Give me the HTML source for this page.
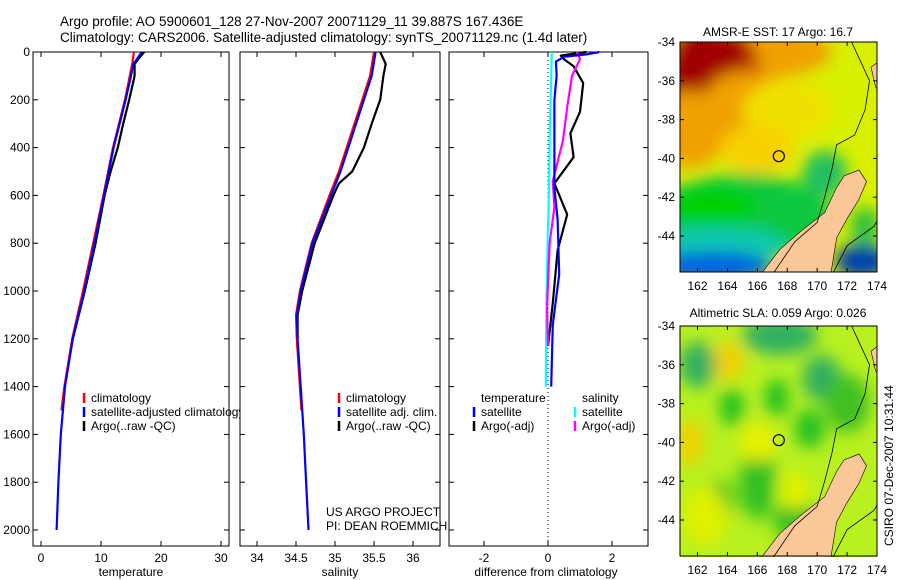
<!DOCTYPE html>
<html><head><meta charset="utf-8"><style>
body{margin:0;background:#fff;font-family:"Liberation Sans",sans-serif;}
svg{display:block}
text{font-family:"Liberation Sans",sans-serif;font-size:12px;fill:#000}
</style></head><body>
<svg id="c" width="900" height="580" viewBox="0 0 900 580">
<defs>
<filter id="blur" x="-20%" y="-20%" width="140%" height="140%"><feGaussianBlur stdDeviation="8"/></filter>
<clipPath id="clipm1"><rect x="680" y="42" width="197" height="230"/></clipPath>
<clipPath id="clipm2"><rect x="680" y="326" width="197" height="231"/></clipPath>
</defs>
<text x="60" y="26" style="font-size:13.5px">Argo profile: AO 5900601_128 27-Nov-2007 20071129_11 39.887S 167.436E</text>
<text x="60" y="42" style="font-size:13.5px">Climatology: CARS2006. Satellite-adjusted climatology: synTS_20071129.nc (1.4d later)</text>
<g id="g"></g>
</svg>
<script>
// ---- data (pressure in dbar) ----
const tClimP=[0,50,100,200,300,400,500,600,800,1000,1200,1400,1500];
const tClimV=[15.5,15.2,14.8,14,13,12,11.2,10.4,8.7,7,5.2,3.9,3.4];
const tSatP=[0,50,100,200,300,400,500,600,800,1000,1200,1400,1600,1800,2000];
const tSatV=[16.8,15.4,15,14.1,13.1,12.1,11.3,10.5,8.9,7.2,5.3,4,3.3,2.9,2.6];
const tArgoP=[0,20,50,100,200,300,400,500,600,800,1000,1100,1200];
const tArgoV=[17.2,16.5,15.6,15.6,14.7,13.7,12.8,11.6,10.6,9.1,7.3,6.3,5.3];
const sClimP=[0,100,200,300,400,500,600,800,1000,1100,1200,1400,1500];
const sClimV=[35.5,35.45,35.35,35.25,35.15,35.05,34.93,34.7,34.55,34.5,34.51,34.55,34.57];
const sSatP=[0,100,200,300,400,500,600,800,1000,1100,1200,1400,1600,1800,2000];
const sSatV=[35.52,35.47,35.37,35.27,35.17,35.07,34.95,34.71,34.56,34.51,34.52,34.56,34.6,34.63,34.66];
const sArgoP=[0,50,100,200,300,400,500,550,600,800,1000,1100,1200];
const sArgoV=[35.58,35.65,35.62,35.58,35.47,35.37,35.22,35.05,34.98,34.74,34.58,34.52,34.52];
const dTSatP=[0,10,20,40,100,200,370,570,700,930,1140,1300,1400];
const dTSatV=[1.6,1.2,0.5,0.25,0.27,0.2,0.2,0.2,0.3,0.35,0.15,0.12,0.1];
const dTArgoP=[0,15,30,60,130,250,340,440,550,680,830,1050,1230];
const dTArgoV=[1.2,0.4,0.5,0.8,1.1,1.0,0.7,0.8,0.2,0.6,0.3,0.15,0.0];
const dSSatP=[0,100,300,570,900,1200,1400];
const dSSatV=[0.12,0.1,0.06,0.03,-0.03,-0.06,-0.07];
const dSArgoP=[0,30,100,230,370,540,650,800,1070,1230];
const dSArgoV=[0.9,1.0,0.75,0.6,0.47,0.15,0.2,0.05,-0.03,0.0];
const tTicks=[0,10,20,30], sTicks=[34,34.5,35,35.5,36], dTicks=[-2,0,2];
const pTicks=[0,200,400,600,800,1000,1200,1400,1600,1800,2000];
const lonTicks=[162,164,166,168,170,172,174], latTicks=[-34,-36,-38,-40,-42,-44];

const NS='http://www.w3.org/2000/svg', G=document.getElementById('g');
function el(t,a,p){const e=document.createElementNS(NS,t);for(const k in a)e.setAttribute(k,a[k]);(p||G).appendChild(e);return e;}
function txt(x,y,s,a,p){const e=el('text',Object.assign({x:x,y:y},a||{}),p);e.textContent=s;return e;}
const y=p=>52+p*0.239;
const xT=v=>41+v*6, xS=v=>296+(v-34.5)*78, xD=v=>548+v*32;
function panel(x0,w,name){
  const r=el('rect',{x:x0,y:52,width:w,height:494,fill:'#fff',stroke:'#000','stroke-width':1});
  
}
function xticks(x0,w,ticks,fx,name){
  ticks.forEach(v=>{const X=fx(v);
    el('line',{x1:X,x2:X,y1:52,y2:57,stroke:'#000'});el('line',{x1:X,x2:X,y1:546,y2:541,stroke:'#000'});
    const t=txt(X,562,String(v),{'text-anchor':'middle'});});
}
function yticks(x0,w,lab){
  pTicks.forEach(p=>{el('line',{x1:x0,x2:x0+5,y1:y(p),y2:y(p),stroke:'#000'});el('line',{x1:x0+w,x2:x0+w-5,y1:y(p),y2:y(p),stroke:'#000'});
    if(lab){const t=txt(x0-3,y(p)+4,String(p),{'text-anchor':'end'});}});
}
function line(P,V,fx,col,name,w){
  const d=P.map((p,i)=>(i?'L':'M')+fx(V[i]).toFixed(1)+','+y(p).toFixed(1)).join('');
  const e=el('path',{d:d,fill:'none',stroke:col,'stroke-width':w||2.2,'stroke-linejoin':'round'});
  
}
function legend(x,yy,items,name){
  items.forEach((it,i)=>{const Y=yy+i*14;
    el('line',{x1:x,x2:x,y1:Y-9,y2:Y+1,stroke:it[1],'stroke-width':2.5});
    const t=txt(x+7,Y,it[0]);});
}
// panel 1
panel(33,196,'temperature-panel');xticks(33,196,tTicks,xT,'temperature');yticks(33,196,true);
line(tArgoP,tArgoV,xT,'#000','argo-temperature-line');
line(tClimP,tClimV,xT,'#f00','climatology-temperature-line');
line(tSatP,tSatV,xT,'#00f','satellite-temperature-line');
legend(84,402,[['climatology','#f00'],['satellite-adjusted climatology','#00f'],['Argo(..raw -QC)','#000']],'temperature-legend');
txt(131,576,'temperature',{'text-anchor':'middle',});
// panel 2
panel(240,200,'salinity-panel');xticks(240,200,sTicks,xS,'salinity');yticks(240,200,false);
line(sArgoP,sArgoV,xS,'#000','argo-salinity-line');
line(sClimP,sClimV,xS,'#f00','climatology-salinity-line');
line(sSatP,sSatV,xS,'#00f','satellite-salinity-line');
legend(339,402,[['climatology','#f00'],['satellite adj. clim.','#00f'],['Argo(..raw -QC)','#000']],'salinity-legend');
txt(326,516,'US ARGO PROJECT',{});
txt(326,530,'PI: DEAN ROEMMICH',{});
txt(340,576,'salinity',{'text-anchor':'middle',});
// panel 3
panel(449,199,'difference-panel');xticks(449,199,dTicks,xD,'difference');yticks(449,199,false);
el('line',{x1:xD(0),x2:xD(0),y1:52,y2:546,stroke:'#000','stroke-dasharray':'1,3',});
line(dTArgoP,dTArgoV,xD,'#000','argo-temperature-diff-line');
line(dSSatP,dSSatV,xD,'#0ff','satellite-salinity-diff-line');
line(dSArgoP,dSArgoV,xD,'#f0f','argo-salinity-diff-line');
line(dTSatP,dTSatV,xD,'#00f','satellite-temperature-diff-line');
txt(481,402,'temperature',{});
txt(582,402,'salinity',{});
legend(474,416,[['satellite','#00f'],['Argo(-adj)','#000']],'diff-temp-legend');
legend(575,416,[['satellite','#0ff'],['Argo(-adj)','#f0f']],'diff-sal-legend');
txt(546,576,'difference from climatology',{'text-anchor':'middle',});

// ---- maps ----
const lx=v=>697.5+(v-162)*14.96;
function map(top,clip,name,bg,blobs){
  const ly=v=>top+(-34-v)*19.4;
  const g=el('g',{'clip-path':'url(#'+clip+')'});
  el('rect',{x:680,y:top,width:197,height:231,fill:bg},g);
  const bg2=el('g',{filter:'url(#blur)'},g);
  blobs.forEach(b=>el('ellipse',{cx:lx(b[0]),cy:ly(b[1]),rx:b[2]*14.96,ry:b[3]*19.4,fill:b[4]},bg2));
  const land=[[166.2,-46],[167.5,-44.7],[169,-43.7],[170.5,-42.8],[171.3,-41.5],[171.8,-40.9],[172.8,-40.6],[173.3,-41.2],[172.8,-42.1],[172,-43.1],[171.3,-44.1],[170.9,-46]];
  el('polygon',{points:land.map(q=>lx(q[0])+','+ly(q[1])).join(' '),fill:'#fac896',stroke:'#000','stroke-width':0.6},g);
  el('polygon',{points:[[173.6,-35.3],[174.3,-34.9],[174.3,-36.8],[173.9,-36.3]].map(q=>lx(q[0])+','+ly(q[1])).join(' '),fill:'#fac896',stroke:'#000','stroke-width':0.6},g);
  el('polygon',{points:[[174.3,-40.2],[173.9,-40.8],[174.3,-41.3]].map(q=>lx(q[0])+','+ly(q[1])).join(' '),fill:'#fac896'},g);
  const iso=[[167,-46],[168.5,-44.3],[170,-43.3],[170.5,-42],[171,-40.5],[171.3,-39.3],[172.5,-38.8],[173.2,-37.5],[173.5,-36],[172.3,-34]];
  el('polyline',{points:iso.map(q=>lx(q[0])+','+ly(q[1])).join(' '),fill:'none',stroke:'#000','stroke-width':0.8},g);
  el('polyline',{points:[[171,-46],[172,-44.5],[173.8,-43.5],[174.3,-42.8]].map(q=>lx(q[0])+','+ly(q[1])).join(' '),fill:'none',stroke:'#000','stroke-width':0.8},g);
  el('circle',{cx:lx(167.436),cy:ly(-39.887),r:5.5,fill:'none',stroke:'#000','stroke-width':1.2,});
  el('rect',{x:680,y:top,width:197,height:230,fill:'none',stroke:'#000'});
  latTicks.forEach(v=>{el('line',{x1:680,x2:684,y1:ly(v),y2:ly(v),stroke:'#000'});el('line',{x1:873,x2:877,y1:ly(v),y2:ly(v),stroke:'#000'});
    const t=txt(675,ly(v)+4,String(v),{'text-anchor':'end'});});
  lonTicks.forEach(v=>{el('line',{x1:lx(v),x2:lx(v),y1:top,y2:top+4,stroke:'#000'});el('line',{x1:lx(v),x2:lx(v),y1:top+230,y2:top+226,stroke:'#000'});
    const t=txt(lx(v),top+248,String(v),{'text-anchor':'middle'});});
}
map(42,'clipm1','sst-map','#d8f000',[
 [165,-34.5,6,1.5,'#f0a000'],[163,-35.8,3.2,3,'#c04000'],[162.3,-35.5,2.3,2.2,'#a00000'],[163.5,-34.6,2,1,'#a00000'],[161.5,-38.5,2.5,2,'#f0a000'],[165,-37,2.5,1.5,'#f0a000'],
 [168,-37.5,3,1.5,'#f0e000'],[166,-39.5,2.5,1.2,'#f8d000'],
 [165,-43,6,2.2,'#10c840'],[163,-42.5,3,1,'#00d000'],[170.5,-40.8,1.5,1.2,'#20c060'],
 [163,-44.5,5,1,'#10c8b0'],[163,-45.6,4,0.8,'#0060e0'],[173,-45.3,1.8,0.9,'#0040b0'],[173.2,-43.5,1,1,'#30c040']]);
txt(778,36,'AMSR-E SST: 17 Argo: 16.7',{'text-anchor':'middle',});
map(326,'clipm2','sla-map','#b8f020',[
 [164,-35.8,1.2,1,'#f0d000'],[161.5,-40,0.9,1.2,'#f0d000'],[162,-36,1.2,1.2,'#30b060'],[167.5,-34.5,2.5,1,'#30b060'],
 [170.3,-36.7,1.3,1.2,'#30b060'],[167.3,-37.7,0.8,1,'#20c020'],[164.3,-38.2,0.8,1,'#20c020'],[169.5,-39.3,1,1,'#20c020'],
 [166,-42,1.2,2,'#30c020'],[163.5,-43,1,1,'#20c020'],[168.5,-44,1.5,1,'#30c020'],[172,-38,1.5,1.5,'#40c020'],
 [162.5,-43.8,1.5,1.5,'#e0f000'],[168.5,-42.5,1,1,'#e0f000'],[166,-40,1.2,1,'#e8f000']]);
txt(778,317,'Altimetric SLA: 0.059 Argo: 0.026',{'text-anchor':'middle',});
txt(0,0,'CSIRO 07-Dec-2007 10:31:44',{transform:'translate(893,546) rotate(-90)',});
</script>
</body></html>
